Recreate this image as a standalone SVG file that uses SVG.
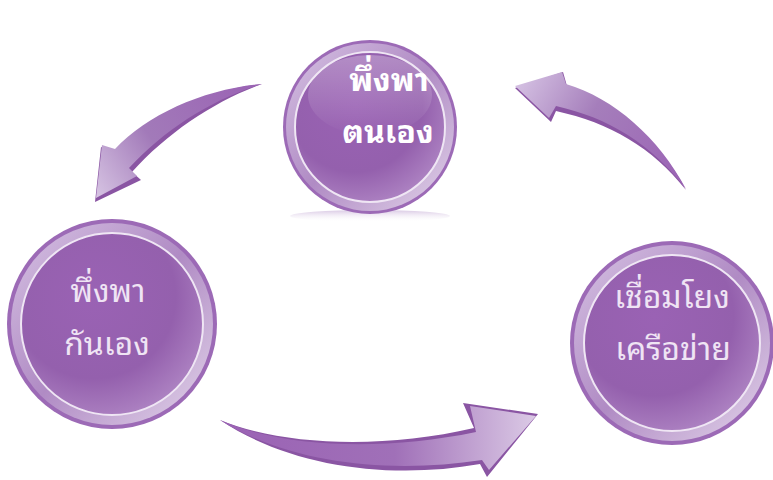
<svg xmlns="http://www.w3.org/2000/svg" width="773" height="480" viewBox="0 0 773 480">
<defs>
  <radialGradient id="disc" cx="0.4" cy="0.35" r="0.75">
    <stop offset="0" stop-color="#9a62b4"/>
    <stop offset="0.6" stop-color="#9460ad"/>
    <stop offset="1" stop-color="#b48cc8"/>
  </radialGradient>
  <linearGradient id="ring" x1="0" y1="0" x2="1" y2="1">
    <stop offset="0" stop-color="#d6c2e3"/>
    <stop offset="0.5" stop-color="#b08bc4"/>
    <stop offset="1" stop-color="#e2d4ea"/>
  </linearGradient>
  <linearGradient id="gloss" x1="0" y1="0" x2="0" y2="1">
    <stop offset="0" stop-color="#ffffff" stop-opacity="0.28"/>
    <stop offset="1" stop-color="#ffffff" stop-opacity="0"/>
  </linearGradient>
  <linearGradient id="arrTL" x1="262" y1="85" x2="95" y2="200" gradientUnits="userSpaceOnUse">
    <stop offset="0" stop-color="#9a62b4"/>
    <stop offset="0.6" stop-color="#a27ab9"/>
    <stop offset="1" stop-color="#d8c6e4"/>
  </linearGradient>
  <linearGradient id="arrTR" x1="686" y1="190" x2="515" y2="87" gradientUnits="userSpaceOnUse">
    <stop offset="0" stop-color="#9a62b4"/>
    <stop offset="0.6" stop-color="#a57ebb"/>
    <stop offset="1" stop-color="#d4c0e2"/>
  </linearGradient>
  <linearGradient id="arrB" x1="220" y1="420" x2="538" y2="420" gradientUnits="userSpaceOnUse">
    <stop offset="0" stop-color="#9a62b4"/>
    <stop offset="0.55" stop-color="#a070b8"/>
    <stop offset="1" stop-color="#dccbe6"/>
  </linearGradient>
  <linearGradient id="shadowFade" x1="0" y1="0" x2="0" y2="1">
    <stop offset="0" stop-color="#c8b0d8" stop-opacity="0.7"/>
    <stop offset="1" stop-color="#ffffff" stop-opacity="0"/>
  </linearGradient>
</defs>
<style>
  .outer { fill: #9c6ab6; }
  .band { fill: url(#ring); }
  .inner { fill: url(#disc); stroke: #efe6f4; stroke-width: 2; }
  .gl { fill: url(#gloss); }
  .lbl { font-family: "Noto Sans Thai Looped", "Noto Sans Thai", "Noto Sans", "DejaVu Sans", sans-serif; font-size: 32px; text-anchor: middle; fill: #efe4f4; }
  .bold { font-weight: bold; fill: #ffffff; }
  .edge { fill: #8a55a3; }
</style>

<g id="connectors">
  <g id="arrow-top-left">
    <path class="edge" d="M262,84 C205,90 148,116 116,152 L101,147 L95,202 L141,180 L132,172 C168,132 215,101 262,84 Z"/>
    <path fill="url(#arrTL)" d="M262,84 C205,89 148,114 115,149 L102,145 L96,198 L137,176 L129,168 C165,129 212,99 262,84 Z"/>
  </g>
  <g id="arrow-top-right">
    <path class="edge" d="M515,88 L563,72 L567,86 C615,101 660,141 686,190 C652,147 610,123 556,111 L551,122 Z"/>
    <path fill="url(#arrTR)" d="M515,86 L562,72 L566,84 C614,98 659,138 686,189 C650,143 609,118 556,106 L549,118 Z"/>
  </g>
  <g id="arrow-bottom">
    <path class="edge" d="M220,420 C280,445 380,450 474,428 L463,403 L538,414 L487,477 L480,464 C390,480 290,467 220,420 Z"/>
    <path fill="url(#arrB)" d="M220,420 C280,447 380,452 476,432 L470,406 L536,416 L489,470 L482,460 C390,474 290,464 220,420 Z"/>
  </g>
</g>

<g id="node-top">
  <ellipse cx="370" cy="216" rx="80" ry="6" fill="url(#shadowFade)"/>
  <circle class="outer" cx="370" cy="127" r="87"/>
  <circle class="band" cx="370" cy="127" r="84"/>
  <circle class="inner" cx="370" cy="127" r="75"/>
  <ellipse class="gl" cx="370" cy="95" rx="62" ry="40"/>
  <text class="lbl bold" x="389" y="91">พึ่งพา</text>
  <text class="lbl bold" x="388" y="143">ตนเอง</text>
</g>

<g id="node-left">
  <circle class="outer" cx="112" cy="324" r="105"/>
  <circle class="band" cx="112" cy="324" r="101"/>
  <circle class="inner" cx="112" cy="324" r="91"/>
  <text class="lbl" x="108" y="302">พึ่งพา</text>
  <text class="lbl" x="107" y="355">กันเอง</text>
</g>

<g id="node-right">
  <circle class="outer" cx="672" cy="343" r="102"/>
  <circle class="band" cx="672" cy="343" r="98"/>
  <circle class="inner" cx="672" cy="343" r="88"/>
  <text class="lbl" x="672" y="308">เชื่อมโยง</text>
  <text class="lbl" x="673" y="360">เครือข่าย</text>
</g>
</svg>
